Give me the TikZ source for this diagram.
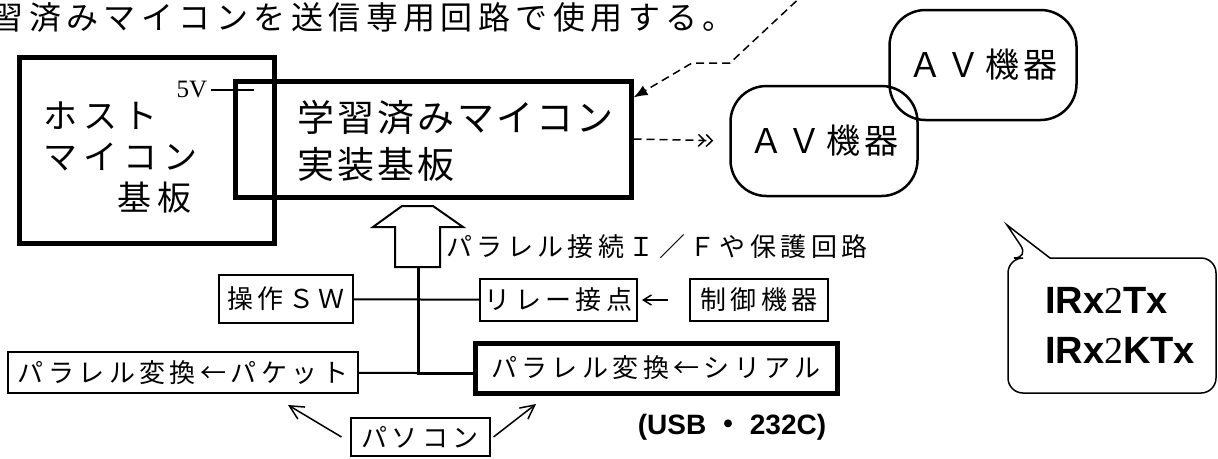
\documentclass[tikz,border=0pt]{standalone}
\usepackage{fontspec}
\setmainfont{Liberation Serif}
\newfontfamily\jp{Noto Sans CJK JP}
\newfontfamily\arial{Liberation Sans}
\usepackage{tikz}
\usetikzlibrary{arrows.meta}
\usetikzlibrary{calc}

\begin{document}
\begin{tikzpicture}[x=1pt,y=-1pt]
        \tikzstyle{thickbox} = [draw, line width=5pt, inner sep=0pt]
        \tikzstyle{thinbox} = [draw, line width=2pt, inner sep=0pt, minimum height=42pt,
                font=\jp\fontsize{26}{30}\selectfont\addfontfeature{LetterSpace=17}]
        \tikzstyle{avbox} = [draw, line width=2.5pt, rounded corners=36pt, minimum width=187pt,
                minimum height=110pt, font=\jp\fontsize{34}{40}\selectfont\addfontfeature{LetterSpace=13}]
        \tikzstyle{mintext} = [inner sep=0pt, font=\jp\fontsize{26}{30}\selectfont\addfontfeature{LetterSpace=17}]
        \tikzstyle{tip} = [-{Straight Barb[length=14pt,width=14pt]}, line width=1.5pt]
        \tikzstyle{dashline} = [dash pattern=on 8pt off 5pt, line width=1.5pt]

        \useasboundingbox (0,0) rectangle (1218,458);

        \node[anchor=west, inner sep=0pt, font=\jp\fontsize{32}{36}\selectfont\addfontfeature{LetterSpace=17}]
                (title) at (-46,17) {学習済みマイコンを送信専用回路で使用する。};

        % boards
        \node[thickbox, minimum width=255pt, minimum height=186pt] (host) at (146.5,150) {};
        \node[thickbox, minimum width=396pt, minimum height=116pt] (main) at (433,139) {};
        \node[anchor=west, align=left, inner sep=0pt,
                font=\jp\fontsize{34}{41}\selectfont\addfontfeature{LetterSpace=18}]
                (hosttxt) at (43,158) {ホスト\\マイコン\\\phantom{マイ}基板};
        \node[anchor=west, align=left, inner sep=0pt,
                font=\jp\fontsize{37}{47}\selectfont\addfontfeature{LetterSpace=8}]
                (maintxt) at (297,141) {学習済みマイコン\\実装基板};
        \node[font=\fontsize{25}{28}\selectfont] (v5) at (192,90) {5V};
        \coordinate (v5e) at (254,90);
        \draw[line width=1.5pt] (v5.east) -- (v5e);

        % AV
        \node[avbox] (av2) at (983,65) {ＡＶ機器};
        \node[avbox] (av1) at (824,141) {ＡＶ機器};
        \draw[dashline, shorten >=16pt,
                -{Straight Barb[length=6pt,width=12pt] Straight Barb[length=6pt,width=12pt]}] (main.east) -- (av1.west);
        \coordinate (top) at (806,-8);
        \draw[dashline, -{Latex[length=14pt,width=11pt]}]
                (top) -- (730,63) -- (692,63) -- ([yshift=-19pt]main.north east);

        % I/F
        \draw[line width=2pt] (402,206) -- (433,206) -- (463,227) -- (440,227) -- (440,267)
                -- (395,267) -- (395,227) -- (373,227) -- cycle;
        \coordinate (ab) at (418,267);
        \node[mintext, anchor=west] (iftxt) at (446,247) {パラレル接続Ｉ／Ｆや保護回路};

        \node[thinbox, minimum width=134pt, minimum height=48pt] (sw) at (286,299) {操作ＳＷ};
        \node[thinbox, minimum width=157pt] (relay) at (558.5,300) {リレー接点};
        \node[thinbox, minimum width=138pt] (ctrl) at (759,300) {制御機器};
        \node[thinbox, minimum width=350pt, minimum height=41pt] (pkt) at (183,372.5) {パラレル変換←パケット};
        \node[thinbox, line width=5pt, minimum width=362pt, minimum height=50pt] (ser) at (656,368) {パラレル変換←シリアル};
        \node[thinbox, minimum width=139pt, minimum height=38pt] (pc) at (420,437) {パソコン};
        \node[font=\arial\bfseries\fontsize{28}{32}\selectfont] (usb) at (732,427) {(USB {\jp ・} 232C)};

        \coordinate (j) at (418,373);
        \draw[line width=2pt] (sw) -- (relay);
        \draw[line width=3pt] (ab) -- (j) -- (j -| ser.west);
        \draw[line width=2pt] (pkt) -- (j);
        \draw[line width=1.5pt, -{Straight Barb[length=8pt,width=10pt]}, shorten >=4pt, shorten <=21pt] (ctrl) -- (relay);

        \coordinate (pk) at (288,405);
        \coordinate (sr) at (536,404);
        \draw[tip] ([xshift=-8pt]pc.west) -- (pk);
        \draw[tip] ([xshift=3pt]pc.east) -- (sr);

        % bubble
        \draw[line width=1.5pt, rounded corners=15pt] (1029,258) [sharp corners] -- (1007,225) -- (1050,258)
                [rounded corners=15pt] -- (1216,258) -- (1216,393) -- (1008,393) -- (1008,258) -- cycle;
        \node[align=left, font=\arial\bfseries\fontsize{38}{50}\selectfont] (irx) at (1120,325)
                {IRx{\rmfamily\mdseries 2}Tx\\IRx{\rmfamily\mdseries 2}KTx};
\end{tikzpicture}
\end{document}
